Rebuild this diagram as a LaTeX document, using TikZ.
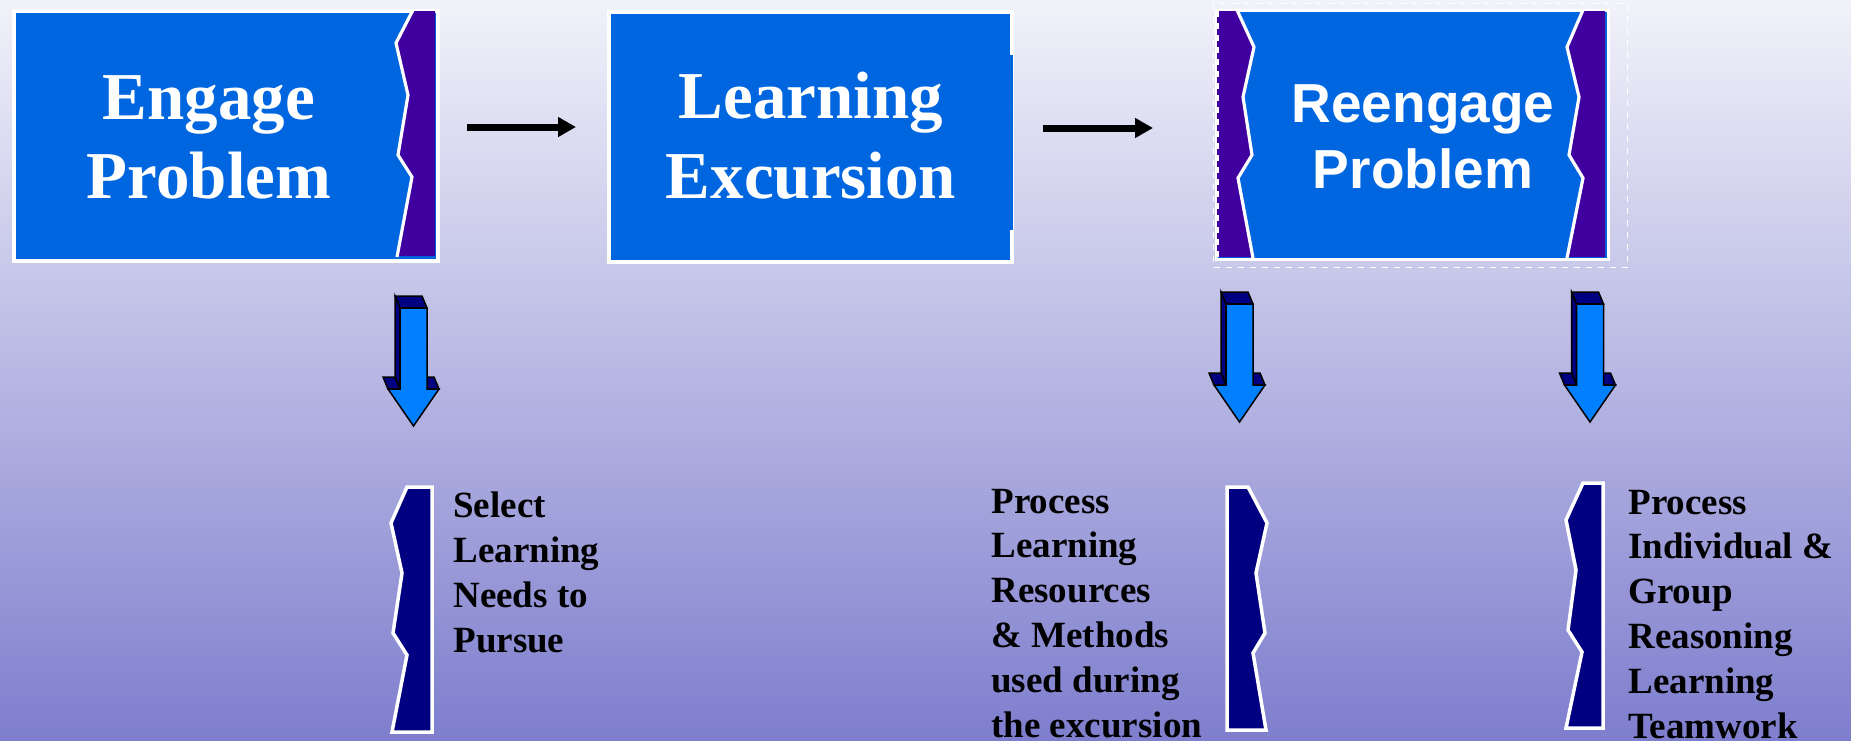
\documentclass[tikz,border=0pt]{standalone}
\usepackage{fontspec}
\setmainfont{Liberation Serif}
\newfontfamily\arialfont{Liberation Sans}
\usetikzlibrary{arrows.meta}
\definecolor{bgtop}{RGB}{242,242,250}
\definecolor{bgmid}{RGB}{192,192,230}
\definecolor{bgbot}{RGB}{126,126,206}
\definecolor{boxblue}{RGB}{0,102,224}
\definecolor{boxpurple}{RGB}{64,0,160}
\definecolor{navy}{RGB}{0,0,128}
\definecolor{arrowblue}{RGB}{0,128,255}
\tikzset{
  x=0.5pt, y=-0.5pt,
  mainbox/.style={draw=white, line width=2pt, fill=boxblue},
  purplepart/.style={fill=boxpurple},
  zigline/.style={draw=white, line width=1.6pt, line join=miter},
  flowarrow/.style={line width=3.5pt, -{Triangle[length=9pt,width=9.5pt]}},
  bracket/.style={fill=navy, draw=white, line width=1.75pt},
  lowtext/.style={anchor=base west, inner sep=0pt, font=\fontsize{18.5}{22.5}\selectfont\bfseries},
  boxtext/.style={anchor=base, inner sep=0pt, text=white},
  arrowface/.style={fill=arrowblue, draw=black, line width=0.75pt, line join=miter},
  arrowside/.style={fill=navy, draw=black, line width=0.75pt, line join=miter},
  downarrow/.pic={
    \path[arrowside] (-13.5,0) -- (13.5,0) -- (8.5,-12) -- (-18.5,-12) -- cycle;
    \path[arrowside] (-13.5,0) -- (-18.5,-12) -- (-18.5,69) -- (-13.5,81) -- cycle;
    \path[arrowside] (-13.5,81) -- (-18.5,69) -- (-30.5,69) -- (-25.5,81) -- cycle;
    \path[arrowside] (13.5,81) -- (8.5,69) -- (20.5,69) -- (25.5,81) -- cycle;
    \path[arrowface] (-13.5,0) -- (13.5,0) -- (13.5,81) -- (25.5,81) -- (0,118) -- (-25.5,81) -- (-13.5,81) -- cycle;
  }
}
\begin{document}
\begin{tikzpicture}
\useasboundingbox (0,0) rectangle (1851,740);
\shade[top color=bgtop, middle color=bgmid, bottom color=bgbot] (0,0) rectangle (1851,740);

% Box 1: Engage Problem
\node[mainbox, rectangle, inner sep=0pt, minimum width=212pt, minimum height=124.75pt, anchor=north west] (box1) at (12,9) {};
\path[purplepart] (413,11) -- (396,43) -- (408,95) -- (398,155) -- (412,177) -- (397,256) -- (435,256) -- (435,11) -- cycle;
\draw[zigline] (413,10) -- (396,43) -- (408,95) -- (398,155) -- (412,177) -- (397,257);
\node[boxtext, font=\fontsize{33.5}{39.5}\selectfont\bfseries] (t1) at (209,119)
  {\vtop{\baselineskip=39.5pt\hbox to 0pt{\hss Engage\hss}\hbox to 0pt{\hss Problem\hss}}};

% Box 2: Learning Excursion
\path[fill=boxblue] (1006,55) rectangle (1013,230);
\node[mainbox, rectangle, inner sep=0pt, minimum width=201.5pt, minimum height=125pt, anchor=north west] (box2) at (607,10) {};
\path[fill=boxblue] (1006,55) rectangle (1013,230);
\node[boxtext, font=\fontsize{33.5}{39.5}\selectfont\bfseries] (t2) at (811,118)
  {\vtop{\baselineskip=40pt\hbox to 0pt{\hss Learning\hss}\hbox to 0pt{\hss Excursion\hss}}};

% Box 3: Reengage Problem
\node[draw=white, dashed, line width=0.7pt, rectangle, inner sep=0pt, minimum width=207pt, minimum height=132pt, anchor=north west] (box3frame) at (1213,3) {};
\node[mainbox, line width=1.6pt, rectangle, inner sep=0pt, minimum width=196pt, minimum height=124.5pt, anchor=north west] (box3) at (1215,9) {};
\path[purplepart] (1217,11) -- (1237,11) -- (1254,47) -- (1243,97) -- (1252,155) -- (1238,178) -- (1253,257) -- (1217,257) -- cycle;
\path[purplepart] (1605,11) -- (1583,11) -- (1567,47) -- (1579,97) -- (1569,155) -- (1583,178) -- (1567,257) -- (1605,257) -- cycle;
\draw[zigline] (1237,10) -- (1254,47) -- (1243,97) -- (1252,155) -- (1238,178) -- (1253,258);
\draw[zigline] (1583,10) -- (1567,47) -- (1579,97) -- (1569,155) -- (1583,178) -- (1567,258);
\draw[white, dashed, line width=0.6pt] (1218,11) -- (1218,257);
\node[boxtext, font=\arialfont\fontsize{27.5}{33}\selectfont\bfseries] (t3) at (1423,122)
  {\vtop{\baselineskip=33pt\hbox to 0pt{\hss Reengage\hss}\hbox to 0pt{\hss Problem\hss}}};

% Horizontal arrows
\coordinate (a1s) at (467,127);
\coordinate (a1e) at (576,127);
\coordinate (a2s) at (1043,128);
\coordinate (a2e) at (1153,128);
\draw[flowarrow] (a1s) -- (a1e);
\draw[flowarrow] (a2s) -- (a2e);

% 3D down arrows
\pic at (413.5,308) {downarrow};
\pic at (1239.5,304) {downarrow};
\pic at (1590,304) {downarrow};

% Lower brackets
\path[bracket] (407,487) -- (432,487) -- (432,732) -- (392,732) -- (407,655) -- (393,633) -- (402,573) -- (391,523) -- cycle;
\path[bracket] (1227,487) -- (1248,487) -- (1267,523) -- (1256,573) -- (1265,633) -- (1253,653) -- (1266,730) -- (1227,730) -- cycle;
\path[bracket] (1583,483) -- (1603,483) -- (1603,728) -- (1566,728) -- (1582,652) -- (1568,630) -- (1576,570) -- (1566,520) -- cycle;

% Lower texts
\node[lowtext] (l1) at (453,517)
  {\vtop{\baselineskip=22.5pt\hbox{Select}\hbox{Learning}\hbox{Needs to}\hbox{Pursue}}};
\node[lowtext] (l2) at (991,513)
  {\vtop{\baselineskip=22.4pt\hbox{Process}\hbox{Learning}\hbox{Resources}\hbox{\& Methods}\hbox{used during}\hbox{the excursion}}};
\node[lowtext] (l3) at (1628,514)
  {\vtop{\baselineskip=22.4pt\hbox{Process}\hbox{Individual \&}\hbox{Group}\hbox{Reasoning}\hbox{Learning}\hbox{Teamwork}}};
\end{tikzpicture}
\end{document}
